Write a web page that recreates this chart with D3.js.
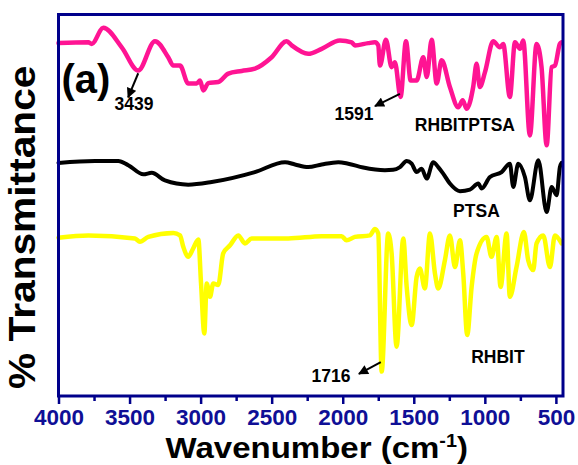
<!DOCTYPE html>
<html>
<head>
<meta charset="utf-8">
<script src="https://cdn.jsdelivr.net/npm/d3@7/dist/d3.min.js"></script>
<style>
  body { margin: 0; background: #fff; }
  text { font-family: Arial, "Liberation Sans", sans-serif; font-weight: bold; }
</style>
</head>
<body>
<div id="chart"></div>
<script>
// FTIR spectra, wavenumber (cm-1) vs % transmittance (offset traces)
const rhbitptsaWn = [4000, 3790, 3766, 3685, 3555, 3439, 3321, 3228, 3192, 3145, 3087, 3028, 3004, 2981, 2946, 2876, 2805, 2711, 2618, 2500, 2395, 2359, 2243, 2148, 2020, 1937, 1914, 1820, 1773, 1750, 1738, 1696, 1656, 1633, 1593, 1555, 1522, 1480, 1433, 1409, 1374, 1339, 1304, 1246, 1187, 1156, 1128, 1082, 1058, 1035, 999, 941, 894, 871, 824, 788, 753, 730, 683, 636, 601, 565, 530, 507, 472, 460];
const rhbitptsaT = [92.5, 92.7, 92.3, 96.5, 91.4, 85.3, 93.0, 88.8, 86.6, 86.6, 81.9, 81.9, 82.7, 80.1, 82.0, 82.3, 84.5, 85.2, 85.8, 88.8, 93.0, 91.9, 89.7, 91.0, 93.2, 92.7, 91.9, 92.5, 92.7, 91.9, 86.6, 93.4, 86.2, 87.5, 78.4, 93.0, 82.7, 82.7, 88.8, 83.6, 93.4, 81.9, 88.0, 81.0, 75.7, 77.5, 75.3, 81.0, 87.1, 81.0, 84.9, 93.0, 91.4, 92.3, 78.4, 92.7, 91.0, 93.2, 68.3, 92.3, 86.2, 65.7, 86.2, 86.6, 92.3, 92.7];

const ptsaWn = [4000, 3743, 3579, 3509, 3403, 3344, 3251, 3087, 2922, 2618, 2406, 2336, 2243, 2148, 2031, 1961, 1856, 1703, 1645, 1597, 1550, 1515, 1480, 1445, 1409, 1363, 1328, 1293, 1246, 1175, 1105, 1046, 1023, 964, 882, 824, 800, 765, 718, 683, 624, 565, 530, 495, 472, 460];
const ptsaT = [61.1, 61.6, 61.6, 60.5, 58.1, 58.5, 56.5, 55.4, 56.1, 58.7, 61.3, 60.7, 60.0, 60.7, 61.3, 60.9, 59.9, 59.2, 59.3, 60.0, 61.6, 60.9, 58.7, 59.6, 57.0, 61.3, 60.0, 58.3, 55.7, 53.7, 54.1, 55.7, 54.4, 57.4, 58.7, 60.9, 54.8, 60.9, 57.4, 51.3, 61.8, 48.2, 54.8, 52.6, 60.0, 61.1];

const rhbitWn = [4000, 3790, 3462, 3427, 3368, 3192, 3145, 3122, 3087, 3052, 3016, 2997, 2974, 2957, 2934, 2911, 2876, 2841, 2793, 2735, 2688, 2641, 2383, 2148, 2008, 1973, 1914, 1809, 1773, 1750, 1726, 1680, 1656, 1621, 1574, 1550, 1515, 1480, 1457, 1422, 1386, 1351, 1328, 1281, 1246, 1210, 1175, 1152, 1124, 1093, 1058, 988, 953, 917, 889, 847, 824, 777, 725, 695, 660, 636, 589, 542, 507, 460];
const rhbitT = [41.5, 42.1, 41.3, 40.4, 41.7, 42.7, 42.1, 39.1, 36.5, 38.7, 41.0, 29.5, 16.4, 29.5, 26.0, 29.5, 29.1, 37.4, 39.5, 42.1, 40.0, 41.3, 41.3, 41.9, 41.9, 40.8, 41.7, 42.1, 43.8, 42.6, 6.4, 42.6, 37.4, 12.9, 41.3, 28.6, 18.6, 31.2, 33.4, 28.2, 42.6, 32.1, 28.2, 35.6, 42.1, 33.8, 40.8, 32.1, 16.0, 28.6, 37.4, 41.7, 36.5, 41.7, 28.6, 42.6, 26.0, 33.8, 43.0, 35.6, 33.0, 40.0, 42.1, 33.8, 42.1, 40.0];

const seriesNames = ["RHBITPTSA", "PTSA", "RHBIT"];
const majorTicks = [4000, 3500, 3000, 2500, 2000, 1500, 1000, 500];
const minorTicks = [3750, 3250, 2750, 2250, 1750, 1250, 750];
const peakLabels = ["3439", "1591", "1716"];

class SpectraVis {
  constructor(_parentElement) {
    this.parentElement = _parentElement;
    this.initVis();
  }

  initVis() {
    let vis = this;

    vis.margin = { top: 14.5, right: 15, bottom: 69, left: 58.5 };
    vis.width = 578 - vis.margin.left - vis.margin.right;
    vis.height = 465 - vis.margin.top - vis.margin.bottom;

    vis.svg = d3
      .select("#" + vis.parentElement)
      .append("svg")
      .attr("width", 578)
      .attr("height", 465)
      .append("g")
      .attr("transform", "translate(" + vis.margin.left + "," + vis.margin.top + ")");

    // wavenumber runs right to left
    vis.x = d3.scaleLinear().domain([4000, 450]).range([0, vis.width]);
    vis.y = d3.scaleLinear().domain([0, 100]).range([vis.height, 0]);

    vis.navy = "#00008b";

    vis.svg.append("defs")
      .append("marker")
      .attr("id", "arrow")
      .attr("viewBox", "0 0 10 10")
      .attr("refX", 9)
      .attr("refY", 5)
      .attr("markerWidth", 5.5)
      .attr("markerHeight", 5)
      .attr("orient", "auto")
      .append("path")
      .attr("d", "M0,0 L10,5 L0,10 z")
      .attr("fill", "#000");

    vis.updateVis();
  }

  updateVis() {
    let vis = this;

    let series = [
      { name: seriesNames[0], wn: rhbitptsaWn, t: rhbitptsaT, color: "#ff1493" },
      { name: seriesNames[1], wn: ptsaWn, t: ptsaT, color: "#000000" },
      { name: seriesNames[2], wn: rhbitWn, t: rhbitT, color: "#ffff00" }
    ];

    let line = d3
      .line()
      .curve(d3.curveMonotoneX)
      .x((d) => vis.x(d[0]))
      .y((d) => vis.y(d[1]));

    // yellow first so it sits under the others
    vis.svg
      .selectAll(".spectrum")
      .data(series.slice().reverse())
      .enter()
      .append("path")
      .attr("class", "spectrum")
      .attr("d", (s) => line(s.wn.map((w, i) => [w, s.t[i]])))
      .attr("fill", "none")
      .attr("stroke", (s) => s.color)
      .attr("stroke-width", (s) => (s.color === "#000000" ? 4 : 4.5))
      .attr("stroke-linejoin", "round")
      .attr("stroke-linecap", "round");

    // x axis, major and minor ticks
    let xAxis = d3.axisBottom(vis.x).tickValues(majorTicks).tickSize(8).tickPadding(5).tickFormat(d3.format("d"));
    let gx = vis.svg.append("g")
      .attr("transform", "translate(0," + vis.height + ")")
      .call(xAxis);
    gx.select(".domain").remove();
    gx.selectAll("line").attr("stroke", vis.navy).attr("stroke-width", 2.5);
    gx.selectAll("text")
      .attr("fill", "#0f0f96")
      .style("font-size", "22.5px");

    let gMinor = vis.svg.append("g")
      .attr("transform", "translate(0," + vis.height + ")")
      .call(d3.axisBottom(vis.x).tickValues(minorTicks).tickSize(5).tickFormat(""));
    gMinor.select(".domain").remove();
    gMinor.selectAll("line").attr("stroke", vis.navy).attr("stroke-width", 2.5);

    // frame
    vis.svg.append("rect")
      .attr("x", 0)
      .attr("y", 0)
      .attr("width", vis.width)
      .attr("height", vis.height)
      .attr("fill", "none")
      .attr("stroke", vis.navy)
      .attr("stroke-width", 3);

    // series names
    let nameSpots = [
      { wn: 1140, t: 69.5 },
      { wn: 1059, t: 46.9 },
      { wn: 908, t: 8.65 }
    ];
    vis.svg.selectAll(".series-name")
      .data(seriesNames)
      .enter()
      .append("text")
      .attr("class", "series-name")
      .attr("x", (d, i) => vis.x(nameSpots[i].wn))
      .attr("y", (d, i) => vis.y(nameSpots[i].t))
      .attr("text-anchor", "middle")
      .style("font-size", "17.5px")
      .text((d) => d);

    // peak annotations with arrows
    let arrows = [
      { from: [3439, 84.6], to: [3510, 78.3], text: [3469, 75.0] },
      { from: [1598, 79.2], to: [1773, 76.0], text: [1921, 72.3] },
      { from: [1732, 8.9], to: [1886, 5.8], text: [2083, 3.7] }
    ];
    arrows.forEach((a, i) => {
      vis.svg.append("line")
        .attr("x1", vis.x(a.from[0]))
        .attr("y1", vis.y(a.from[1]))
        .attr("x2", vis.x(a.to[0]))
        .attr("y2", vis.y(a.to[1]))
        .attr("stroke", "#000")
        .attr("stroke-width", 2)
        .attr("marker-end", "url(#arrow)");
      vis.svg.append("text")
        .attr("x", vis.x(a.text[0]))
        .attr("y", vis.y(a.text[1]))
        .attr("text-anchor", "middle")
        .style("font-size", "17.5px")
        .text(peakLabels[i]);
    });

    // panel tag
    vis.svg.append("text")
      .attr("x", 3)
      .attr("y", 78)
      .style("font-size", "40px")
      .text("(a)");

    // axis titles (original lettering is slightly stretched)
    let xTitle = vis.svg.append("text")
      .attr("transform", "translate(" + (vis.width / 2 + 6) + "," + (vis.height + 62) + ") scale(1.1,1)")
      .attr("x", 0)
      .attr("text-anchor", "middle")
      .style("font-size", "30px");
    xTitle.append("tspan").text("Wavenumber (cm");
    xTitle.append("tspan").attr("dy", -11).style("font-size", "18px").text("-1");
    xTitle.append("tspan").attr("dy", 11).text(")");

    vis.svg.append("text")
      .attr("transform", "translate(-24," + (vis.height / 2 + 22) + ") rotate(-90) scale(1.1,1)")
      .attr("text-anchor", "middle")
      .style("font-size", "37px")
      .text("% Transmittance");
  }
}

new SpectraVis("chart");
</script>
</body>
</html>
